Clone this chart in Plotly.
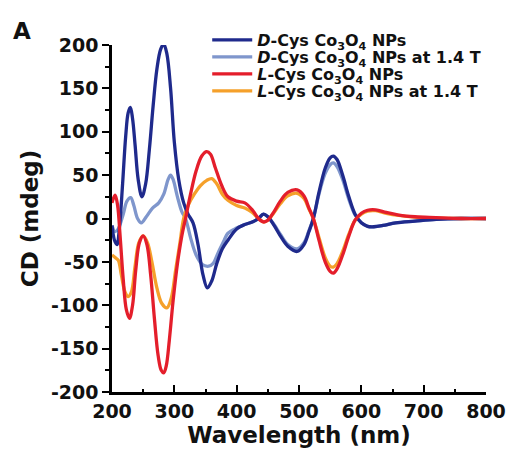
import plotly.graph_objects as go

# ---------------- data ----------------
d_wl = [200, 204, 208, 212, 217, 222, 226, 229.5, 233, 237, 242, 248, 254, 260, 266, 272, 278, 283,
        288, 294, 300, 307, 315, 322, 330, 338, 346, 353, 360, 368, 377, 386, 400, 413, 425, 435,
        443, 450, 460, 470, 482, 497, 508, 516, 523, 532, 542, 550, 555, 561, 570, 580, 590, 600,
        610, 620, 635, 655, 686, 720, 760, 800]
d_cd = [-8, -25, -30, -10, 40, 95, 122, 128, 115, 85, 45, 25, 40, 80, 130, 172, 195, 201,
        190, 150, 88, 45, 18, 5, -5, -30, -65, -80, -72, -52, -35, -25, -12, -7, -4, 0,
        5, 2, -8, -20, -32, -38, -30, -15, 0, 30, 58, 70, 72, 68, 50, 25, 5, -5,
        -9, -9.5, -8, -5, -3, -1, 0, 0]

dm_wl = [200, 205, 210, 218, 224, 230, 235, 241, 247, 255, 265, 275, 283, 290, 294, 298, 305, 312,
         318, 326, 335, 345, 355, 362, 370, 380, 386, 400, 413, 425, 435, 443, 450, 460, 470, 482,
         497, 508, 516, 523, 532, 542, 550, 555, 561, 570, 580, 590, 600, 610, 620, 635, 655, 686,
         720, 760, 800]
dm_cd = [-8, -15, -12, 5, 20, 24, 15, 0, -5, 2, 12, 18, 28, 45, 50, 45, 25, 8,
         0, -22, -42, -53, -55, -52, -40, -25, -17, -11, -7, -4, 0, 5, 2, -7, -18, -30,
         -35, -28, -14, 0, 28, 52, 62, 64, 60, 45, 22, 4, -5, -9, -9.5, -8, -5, -3,
         -1, 0, 0]

l_wl = [200, 205, 209, 213, 218, 223, 228, 233, 238, 244, 250, 256, 262, 268, 274, 279, 283, 287,
        292, 298, 305, 312, 318, 326, 335, 344, 352, 358, 366, 376, 386, 400, 413, 425, 435, 443,
        450, 460, 470, 482, 497, 508, 516, 523, 532, 542, 550, 555, 561, 570, 580, 590, 600, 610,
        623, 640, 660, 686, 720, 760, 800]
l_cd = [18, 27, 15, -20, -70, -105, -115, -100, -60, -28, -20, -30, -65, -115, -158, -175, -178, -170,
        -140, -95, -52, -20, 0, 28, 55, 72, 77, 74, 58, 38, 25, 20, 18, 10, 0, -4,
        -2, 8, 20, 30, 33, 26, 12, 0, -25, -50, -61, -63, -58, -42, -20, -2, 6, 9.5,
        10, 7, 4, 2, 1, 0, 0]

lm_wl = [200, 205, 210, 215, 221, 226, 231, 237, 243, 250, 257, 264, 272, 280, 288, 295, 302, 309,
         315, 322, 332, 342, 352, 360, 368, 377, 386, 400, 413, 425, 435, 443, 450, 460, 470, 482,
         497, 508, 516, 523, 532, 542, 550, 555, 561, 570, 580, 590, 600, 610, 623, 640, 660, 686,
         720, 760, 800]
lm_cd = [-42, -45, -48, -65, -85, -90, -85, -55, -28, -20, -28, -50, -80, -98, -103, -92, -60, -28,
         0, 15, 28, 38, 44, 46, 40, 28, 21, 15, 12, 7, 0, -4, -2, 7, 17, 26,
         29, 23, 11, 0, -22, -45, -55, -56, -52, -38, -18, -2, 5, 8.5, 9, 6, 3.5, 1.5,
         0.5, 0, 0]

names = ["<i>D</i>-Cys Co<sub>3</sub>O<sub>4</sub> NPs",
         "<i>D</i>-Cys Co<sub>3</sub>O<sub>4</sub> NPs at 1.4 T",
         "<i>L</i>-Cys Co<sub>3</sub>O<sub>4</sub> NPs",
         "<i>L</i>-Cys Co<sub>3</sub>O<sub>4</sub> NPs at 1.4 T"]
x_ticks = [200, 300, 400, 500, 600, 700, 800]
y_ticks = [-200, -150, -100, -50, 0, 50, 100, 150, 200]

# ---------------- styling ----------------
colors = ["#1f2a8c", "#7f96cc", "#e41e2b", "#f5a02a"]
FONT = "DejaVu Sans"
series = [(d_wl, d_cd), (dm_wl, dm_cd), (l_wl, l_cd), (lm_wl, lm_cd)]
legend_ids = ["legend", "legend2", "legend3", "legend4"]
order = [1, 3, 0, 2]

fig = go.Figure()
for i in order:
    wl, cd = series[i]
    fig.add_trace(go.Scatter(
        x=wl, y=cd, mode="lines", name=names[i],
        line=dict(color=colors[i], width=3.3, shape="spline", smoothing=1.0),
        legend=legend_ids[i], showlegend=True,
    ))

PW = 381.0
PH = 347.0
leg_rows_px = [40, 57, 74, 91]
leg_common = dict(
    x=(209 - 112) / PW, xanchor="left", yanchor="middle",
    bgcolor="rgba(0,0,0,0)", borderwidth=0, itemwidth=40,
    font=dict(family=FONT, size=16, color="#111111", weight="bold"),
    tracegroupgap=0,
)
legends = {}
for k, lid in enumerate(legend_ids):
    legends[lid] = dict(leg_common, y=(392 - leg_rows_px[k]) / PH)

fig.update_layout(
    width=518, height=463,
    margin=dict(l=112, r=25, t=45, b=71),
    paper_bgcolor="white", plot_bgcolor="white",
    font=dict(family=FONT, color="#111111"),
    **legends,
    xaxis=dict(
        range=[200, 800], tickvals=x_ticks, ticktext=[str(v) for v in x_ticks],
        showline=True, linecolor="black", linewidth=2.5,
        ticks="inside", ticklen=7, tickwidth=2, tickcolor="black",
        minor=dict(dtick=50, tick0=200, ticks="inside", ticklen=3, tickwidth=2, tickcolor="black"),
        showgrid=False, zeroline=False,
        tickfont=dict(family=FONT, size=19, color="#111111", weight="bold"),
        title=dict(text="Wavelength (nm)", standoff=6,
                   font=dict(family=FONT, size=23, color="#111111", weight="bold")),
    ),
    yaxis=dict(
        range=[-200, 200], tickvals=y_ticks, ticktext=[str(v) for v in y_ticks],
        showline=True, linecolor="black", linewidth=2.5,
        ticks="outside", ticklen=7, tickwidth=2, tickcolor="black",
        minor=dict(dtick=25, tick0=0, ticks="outside", ticklen=4, tickwidth=2, tickcolor="black"),
        showgrid=False, zeroline=False,
        tickfont=dict(family=FONT, size=19, color="#111111", weight="bold"),
        title=dict(text="CD (mdeg)", standoff=6,
                   font=dict(family=FONT, size=23, color="#111111", weight="bold")),
    ),
)
fig.add_annotation(text="<b>A</b>", xref="paper", yref="paper",
                   x=(9 - 112) / PW, y=(392 - 31) / PH, xanchor="left", yanchor="middle",
                   showarrow=False, font=dict(family=FONT, size=23, color="#111111"))

fig.write_html("out.html")
